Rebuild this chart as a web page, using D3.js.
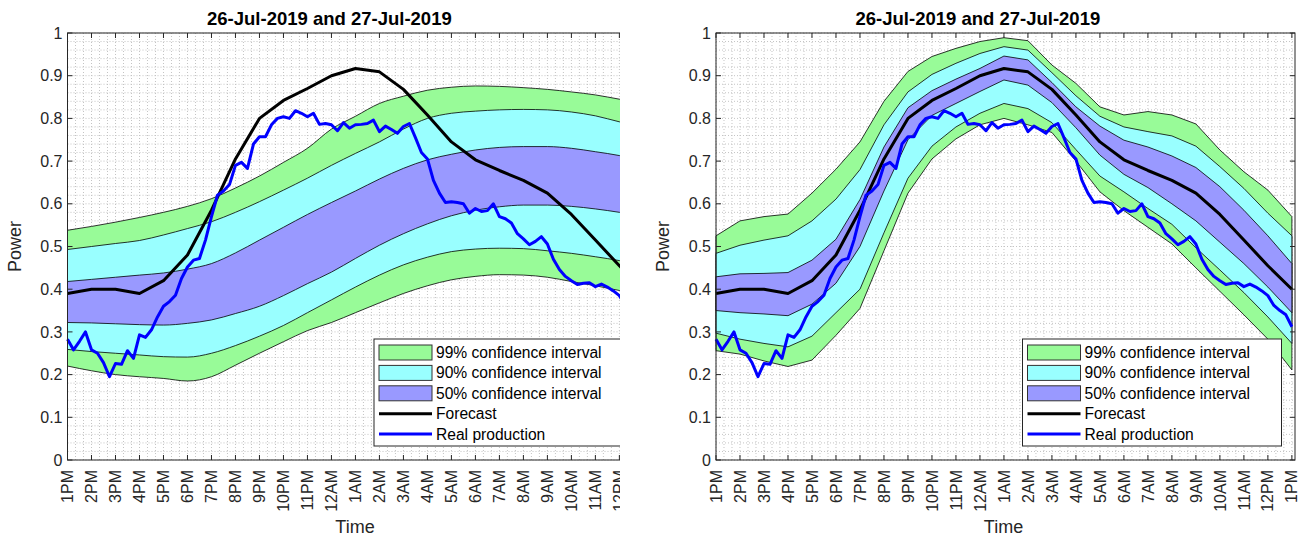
<!DOCTYPE html>
<html>
<head>
<meta charset="utf-8">
<script src="https://cdn.jsdelivr.net/npm/d3@7"></script>
<style>
  body { margin: 0; background: #fff; }
  svg text { font-family: "Liberation Sans", Arial, sans-serif; fill: #262626; }
</style>
</head>
<body>
<svg id="chart" width="1310" height="537"></svg>
<script>
// hour ticks, 1PM on 26-Jul to 1PM on 27-Jul
var tickLabels = ['1PM', '2PM', '3PM', '4PM', '5PM', '6PM', '7PM', '8PM', '9PM', '10PM', '11PM', '12AM',
    '1AM', '2AM', '3AM', '4AM', '5AM', '6AM', '7AM', '8AM', '9AM', '10AM', '11AM', '12PM', '1PM'];
var yTicks = [0, 0.1, 0.2, 0.3, 0.4, 0.5, 0.6, 0.7, 0.8, 0.9, 1];
var title = '26-Jul-2019 and 27-Jul-2019';

// hourly forecast (same on both panels)
var forecast = [0.39, 0.40, 0.40, 0.39, 0.42, 0.48, 0.585, 0.705, 0.80, 0.842, 0.87, 0.90, 0.917,
    0.909, 0.868, 0.808, 0.745, 0.703, 0.678, 0.655, 0.625, 0.575, 0.515, 0.455, 0.40];

// real production, every 15 minutes
var real = [0.283, 0.258, 0.278, 0.300, 0.258, 0.250, 0.228, 0.195, 0.226, 0.224, 0.256, 0.238,
    0.293, 0.287, 0.305, 0.335, 0.360, 0.371, 0.386, 0.425, 0.452, 0.468, 0.472, 0.515,
    0.570, 0.620, 0.630, 0.645, 0.690, 0.697, 0.683, 0.740, 0.757, 0.757, 0.785, 0.800,
    0.804, 0.800, 0.818, 0.812, 0.804, 0.812, 0.786, 0.788, 0.785, 0.771, 0.790, 0.777,
    0.785, 0.786, 0.788, 0.796, 0.769, 0.782, 0.774, 0.765, 0.781, 0.788, 0.755, 0.720,
    0.705, 0.655, 0.625, 0.603, 0.605, 0.603, 0.600, 0.578, 0.589, 0.582, 0.584, 0.600,
    0.570, 0.565, 0.555, 0.530, 0.518, 0.504, 0.512, 0.523, 0.506, 0.470, 0.446, 0.430,
    0.420, 0.411, 0.414, 0.415, 0.406, 0.412, 0.405, 0.396, 0.385, 0.362, 0.350, 0.340, 0.312];

// left panel intervals (hourly)
var left99lo = [0.220, 0.209, 0.200, 0.195, 0.191, 0.185, 0.195, 0.222, 0.250, 0.277, 0.303, 0.322, 0.345,
    0.368, 0.390, 0.408, 0.422, 0.430, 0.434, 0.433, 0.428, 0.418, 0.408, 0.397, 0.385];
var left90lo = [0.259, 0.254, 0.250, 0.246, 0.242, 0.241, 0.250, 0.268, 0.290, 0.315, 0.345, 0.375, 0.405,
    0.433, 0.457, 0.475, 0.488, 0.494, 0.496, 0.495, 0.490, 0.484, 0.476, 0.467, 0.455];
var left50lo = [0.322, 0.321, 0.319, 0.317, 0.316, 0.320, 0.328, 0.343, 0.360, 0.385, 0.413, 0.440, 0.472,
    0.503, 0.530, 0.553, 0.572, 0.585, 0.593, 0.597, 0.597, 0.594, 0.588, 0.580, 0.570];
var left50hi = [0.418, 0.423, 0.428, 0.433, 0.438, 0.447, 0.460, 0.485, 0.515, 0.545, 0.575, 0.603, 0.630,
    0.658, 0.683, 0.703, 0.716, 0.726, 0.732, 0.734, 0.734, 0.730, 0.722, 0.713, 0.700];
var left90hi = [0.493, 0.500, 0.507, 0.514, 0.527, 0.542, 0.558, 0.580, 0.605, 0.632, 0.660, 0.690, 0.718,
    0.745, 0.775, 0.800, 0.812, 0.817, 0.820, 0.821, 0.820, 0.815, 0.806, 0.792, 0.780];
var left99hi = [0.538, 0.547, 0.557, 0.568, 0.580, 0.594, 0.612, 0.637, 0.665, 0.697, 0.730, 0.775, 0.805,
    0.835, 0.852, 0.866, 0.873, 0.876, 0.875, 0.872, 0.868, 0.862, 0.855, 0.845, 0.835];

// right panel intervals (hourly, around the forecast)
var right99lo = [0.256, 0.248, 0.232, 0.219, 0.234, 0.292, 0.355, 0.490, 0.625, 0.705, 0.752, 0.785, 0.800,
    0.785, 0.767, 0.700, 0.628, 0.584, 0.545, 0.506, 0.450, 0.395, 0.340, 0.283, 0.211];
var right90lo = [0.297, 0.283, 0.273, 0.265, 0.290, 0.345, 0.400, 0.532, 0.660, 0.735, 0.780, 0.812, 0.835,
    0.823, 0.790, 0.727, 0.665, 0.628, 0.589, 0.552, 0.497, 0.445, 0.392, 0.335, 0.273];
var right50lo = [0.350, 0.345, 0.342, 0.338, 0.365, 0.414, 0.500, 0.630, 0.750, 0.807, 0.835, 0.863, 0.890,
    0.878, 0.837, 0.778, 0.714, 0.669, 0.638, 0.600, 0.560, 0.510, 0.460, 0.405, 0.345];
var right50hi = [0.429, 0.436, 0.437, 0.439, 0.468, 0.517, 0.610, 0.733, 0.825, 0.865, 0.892, 0.917, 0.946,
    0.937, 0.884, 0.827, 0.782, 0.749, 0.733, 0.712, 0.685, 0.640, 0.585, 0.525, 0.460];
var right90hi = [0.484, 0.503, 0.515, 0.525, 0.560, 0.611, 0.680, 0.785, 0.862, 0.903, 0.929, 0.952, 0.968,
    0.960, 0.907, 0.853, 0.805, 0.780, 0.769, 0.759, 0.735, 0.687, 0.636, 0.578, 0.525];
var right99hi = [0.525, 0.560, 0.570, 0.576, 0.625, 0.681, 0.745, 0.840, 0.910, 0.945, 0.964, 0.980, 0.989,
    0.982, 0.925, 0.882, 0.827, 0.808, 0.816, 0.808, 0.787, 0.726, 0.675, 0.632, 0.570];

var legendItems = ['99% confidence interval', '90% confidence interval', '50% confidence interval', 'Forecast', 'Real production'];
var green = '#98fb98', cyan = '#99ffff', purple = '#9999ff';

var svg = d3.select('#chart');

// the left figure is cropped on its right side
svg.append('defs').append('clipPath').attr('id', 'crop')
    .append('rect').attr('x', 0).attr('y', 0).attr('width', 620).attr('height', 537);

function drawPanel(g, left, bands, curve) {
    var width = 579, top = 33, bottom = 460;
    var x = d3.scaleLinear().domain([0, 24.13]).range([left, left + width]);
    var y = d3.scaleLinear().domain([0, 1]).range([bottom, top]);

    // dotted minor grid
    var grid = g.append('g').attr('class', 'grid');
    var xs = d3.range(0, 24.13 * 3).map(function (i) { return i / 3; });
    grid.selectAll('line.v').data(xs).enter().append('line')
        .attr('x1', function (d) { return x(d); }).attr('x2', function (d) { return x(d); })
        .attr('y1', top).attr('y2', bottom)
        .attr('stroke', '#c4c4c4').attr('stroke-width', 1).attr('stroke-dasharray', '1,2');
    var ys = d3.range(0, 51).map(function (i) { return i / 50; });
    grid.selectAll('line.h').data(ys).enter().append('line')
        .attr('y1', function (d) { return y(d); }).attr('y2', function (d) { return y(d); })
        .attr('x1', left).attr('x2', left + width)
        .attr('stroke', '#c4c4c4').attr('stroke-width', 1).attr('stroke-dasharray', '1,2');

    // confidence bands
    var fills = [green, cyan, purple];
    [[0, 5], [1, 4], [2, 3]].forEach(function (p, k) {
        var lo = bands[p[0]], hi = bands[p[1]];
        var area = d3.area().curve(curve)
            .x(function (d, i) { return x(i); })
            .y0(function (d, i) { return y(lo[i]); })
            .y1(function (d, i) { return y(hi[i]); });
        g.append('path').datum(lo).attr('d', area)
            .attr('fill', fills[k]).attr('stroke', '#000').attr('stroke-width', 0.8);
    });

    var line = d3.line().x(function (d, i) { return x(i); }).y(function (d) { return y(d); });
    g.append('path').datum(forecast).attr('d', line)
        .attr('fill', 'none').attr('stroke', '#000').attr('stroke-width', 3).attr('stroke-linejoin', 'round');
    var realLine = d3.line().x(function (d, i) { return x(i / 4); }).y(function (d) { return y(d); });
    g.append('path').datum(real).attr('d', realLine)
        .attr('fill', 'none').attr('stroke', '#0000ff').attr('stroke-width', 3).attr('stroke-linejoin', 'round');

    // axes box with inner ticks
    var axisColor = '#262626';
    g.append('rect').attr('x', left).attr('y', top).attr('width', width).attr('height', bottom - top)
        .attr('fill', 'none').attr('stroke', axisColor).attr('stroke-width', 1);
    var hrs = d3.range(0, 25);
    g.selectAll('line.xtb').data(hrs).enter().append('line')
        .attr('x1', function (d) { return x(d); }).attr('x2', function (d) { return x(d); })
        .attr('y1', bottom).attr('y2', bottom - 5).attr('stroke', axisColor);
    g.selectAll('line.xtt').data(hrs).enter().append('line')
        .attr('x1', function (d) { return x(d); }).attr('x2', function (d) { return x(d); })
        .attr('y1', top).attr('y2', top + 5).attr('stroke', axisColor);
    g.selectAll('line.ytl').data(yTicks).enter().append('line')
        .attr('y1', function (d) { return y(d); }).attr('y2', function (d) { return y(d); })
        .attr('x1', left).attr('x2', left + 5).attr('stroke', axisColor);
    g.selectAll('line.ytr').data(yTicks).enter().append('line')
        .attr('y1', function (d) { return y(d); }).attr('y2', function (d) { return y(d); })
        .attr('x1', left + width).attr('x2', left + width - 5).attr('stroke', axisColor);

    g.selectAll('text.xt').data(hrs).enter().append('text')
        .attr('transform', function (d) { return 'translate(' + x(d) + ',' + (bottom + 10) + ') rotate(-90)'; })
        .attr('text-anchor', 'end').attr('dy', '0.35em')
        .style('font-size', '16px')
        .text(function (d) { return tickLabels[d]; });
    g.selectAll('text.yt').data(yTicks).enter().append('text')
        .attr('x', left - 5).attr('y', function (d) { return y(d); })
        .attr('text-anchor', 'end').attr('dy', '0.35em')
        .style('font-size', '16px')
        .text(function (d) { return d3.format('')(d); });

    g.append('text').attr('x', left + 139.5).attr('y', 25)
        .style('font-size', '18.5px').style('font-weight', 'bold').style('fill', '#000')
        .text(title);
    g.append('text').attr('transform', 'translate(' + (left - 47) + ',' + ((top + bottom) / 2) + ') rotate(-90)')
        .attr('text-anchor', 'middle').style('font-size', '18px').text('Power');
    g.append('text').attr('x', left + width / 2 - 2).attr('y', 533)
        .attr('text-anchor', 'middle').style('font-size', '18px').text('Time');

    // legend
    var lx = left + 306.5, ly = 339;
    var lg = g.append('g').attr('transform', 'translate(' + lx + ',' + ly + ')');
    lg.append('rect').attr('width', 259).attr('height', 107)
        .attr('fill', '#fff').attr('stroke', axisColor).attr('stroke-width', 1);
    legendItems.forEach(function (name, i) {
        var cy = 13.5 + i * 20.4;
        if (i < 3) {
            lg.append('rect').attr('x', 5).attr('y', cy - 7.5).attr('width', 53).attr('height', 15)
                .attr('fill', fills[i]).attr('stroke', '#333').attr('stroke-width', 1);
        } else {
            lg.append('line').attr('x1', 5).attr('x2', 58).attr('y1', cy).attr('y2', cy)
                .attr('stroke', i === 3 ? '#000' : '#0000ff').attr('stroke-width', 3);
        }
        lg.append('text').attr('x', 62).attr('y', cy).attr('dy', '0.35em')
            .style('font-size', '15.6px').style('fill', '#000').text(name);
    });
}

var leftG = svg.append('g').attr('clip-path', 'url(#crop)');
drawPanel(leftG, 67.5, [left99lo, left90lo, left50lo, left50hi, left90hi, left99hi], d3.curveMonotoneX);
var rightG = svg.append('g');
drawPanel(rightG, 716, [right99lo, right90lo, right50lo, right50hi, right90hi, right99hi], d3.curveLinear);
</script>
</body>
</html>
